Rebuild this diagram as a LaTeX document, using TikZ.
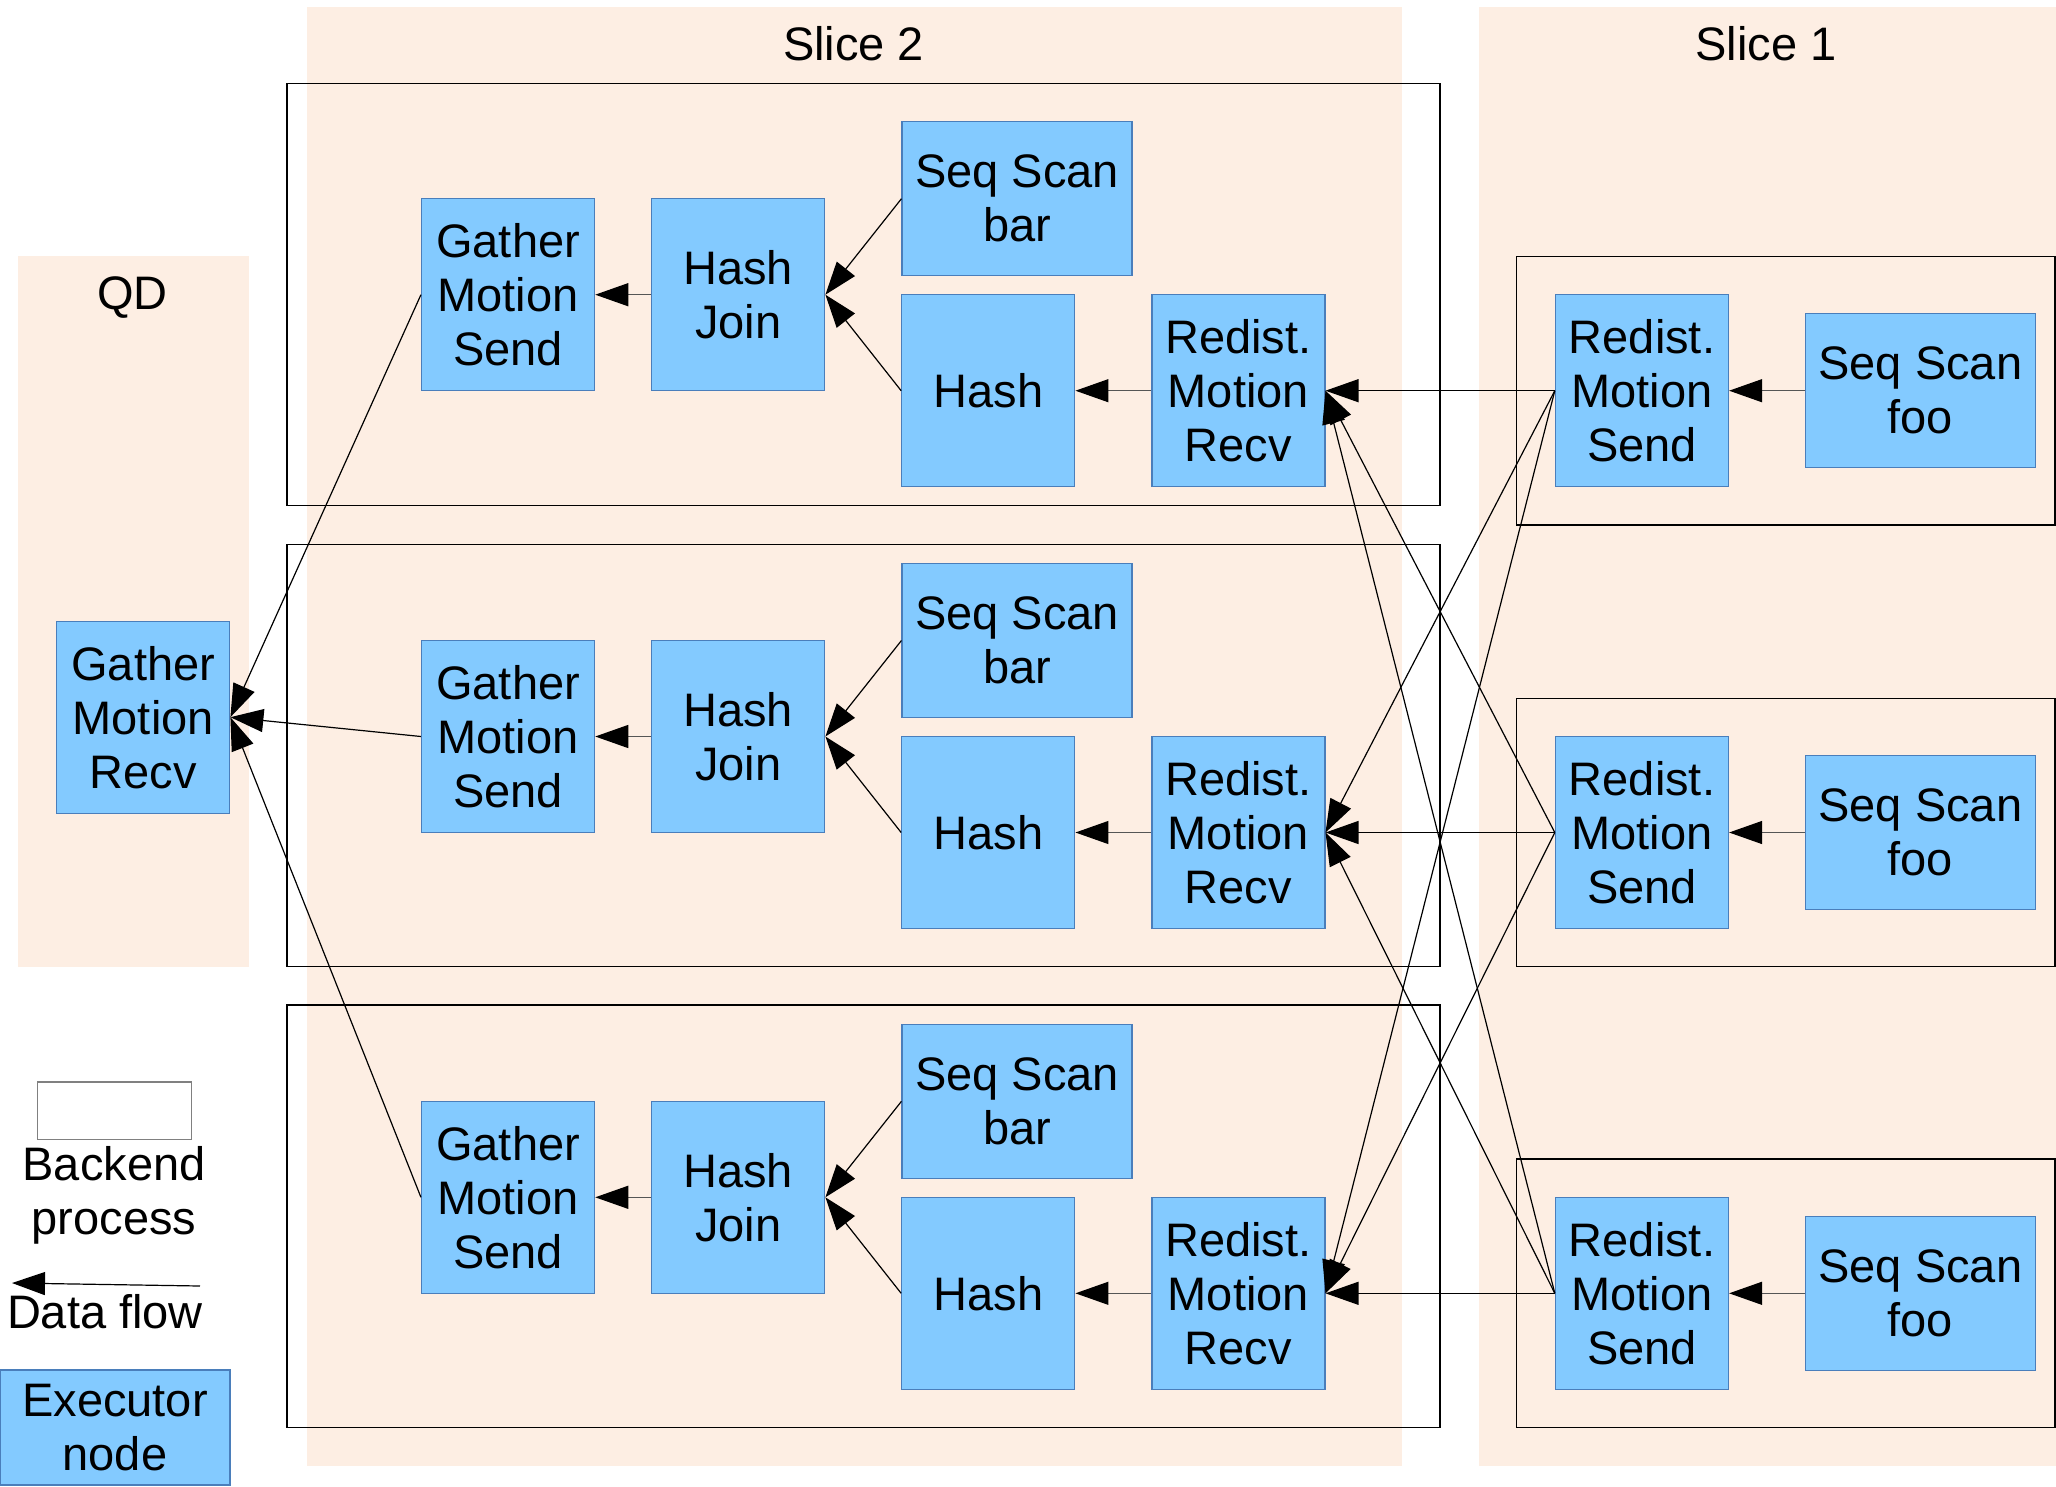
\documentclass[tikz,border=0pt]{standalone}
\usepackage{fontspec}
\setmainfont{Liberation Sans}
\usetikzlibrary{arrows.meta}
\definecolor{execfill}{HTML}{83CAFF}
\definecolor{execborder}{HTML}{4A7EBB}
\definecolor{slicebg}{HTML}{FDEEE3}
\definecolor{shortline}{HTML}{555555}
\tikzset{
  lbl/.style={inner sep=0pt, align=center, font=\fontsize{47}{54}\selectfont},
  exec/.style={lbl, draw=execborder, line width=1.3pt, fill=execfill, minimum width=173pt, minimum height=192pt},
  scan/.style={exec, minimum width=230pt, minimum height=154pt},
  backend/.style={draw=black, line width=1.3pt},
  bgbox/.style={fill=slicebg, draw=none},
  flow/.style={-{Triangle[length=33pt,width=23pt,color=black]}, line width=1.2pt},
  shortflow/.style={flow, draw=shortline},
}
\begin{document}
\begin{tikzpicture}[x=1pt, y=-1pt]
\useasboundingbox (0,0) rectangle (2056,1486);
% backgrounds
\fill[bgbox] (306.8,6.7) rectangle (1401.5,1465.7);
\fill[bgbox] (1478.8,6.7) rectangle (2056,1465.7);
\fill[bgbox] (18.4,256) rectangle (249,966.7);
% labels
\node[lbl] (s2label) at (853.6,44) {Slice 2};
\node[lbl] (s1label) at (1766,44) {Slice 1};
\node[lbl] (qdlabel) at (132.4,298) {QD};
% backend process boxes
\draw[backend] (287,83.3) rectangle (1440,505.7);
\draw[backend] (287,544.3) rectangle (1440,966.7);
\draw[backend] (287,1005) rectangle (1440,1427.3);
\draw[backend] (1516.8,256.4) rectangle (2055,525);
\draw[backend] (1516.8,698.3) rectangle (2055,966.7);
\draw[backend] (1516.8,1159) rectangle (2055,1427.3);
% QD node
\node[exec] (gr) at (143.25,717.2) {Gather\\Motion\\Recv};
% rows
\foreach \r/\c in {1/294.7, 2/736.5, 3/1197.3} {
  \node[exec] (gs\r) at (508.1,\c) {Gather\\Motion\\Send};
  \node[exec] (hj\r) at (738.25,\c) {Hash\\Join};
  \node[scan] (sb\r) at (1017.1,\c-96) {Seq Scan\\bar};
  \node[exec] (hs\r) at (988.3,\c+96) {Hash};
  \node[exec] (rr\r) at (1238.35,\c+96) {Redist.\\Motion\\Recv};
  \node[exec] (rs\r) at (1641.95,\c+96) {Redist.\\Motion\\Send};
  \node[scan] (sf\r) at (1920.35,\c+96) {Seq Scan\\foo};
}
% connectors inside rows
\foreach \r in {1,2,3} {
  \draw[shortflow] (hj\r.west) -- (gs\r.east);
  \draw[flow] (sb\r.west) -- (hj\r.east);
  \draw[flow] (hs\r.west) -- (hj\r.east);
  \draw[shortflow] (rr\r.west) -- (hs\r.east);
  \draw[shortflow] (sf\r.west) -- (rs\r.east);
  \draw[flow] (gs\r.west) -- (gr.east);
  \foreach \s in {1,2,3} {
    \draw[flow] (rs\s.west) -- (rr\r.east);
  }
}
% legend
\draw[draw=gray, fill=white, line width=1.3pt] (37.5,1082) rectangle (191.2,1139.7);
\node[lbl] (backendlbl) at (114,1195) {Backend\\process};
\coordinate (legtail) at (200,1286);
\coordinate (leghead) at (12,1283);
\draw[flow] (legtail) -- (leghead);
\node[lbl] (flowlbl) at (105,1312) {Data flow};
\node[exec, minimum width=230pt, minimum height=115pt] (execlbl) at (115,1427.5) {Executor\\node};
\end{tikzpicture}
\end{document}
